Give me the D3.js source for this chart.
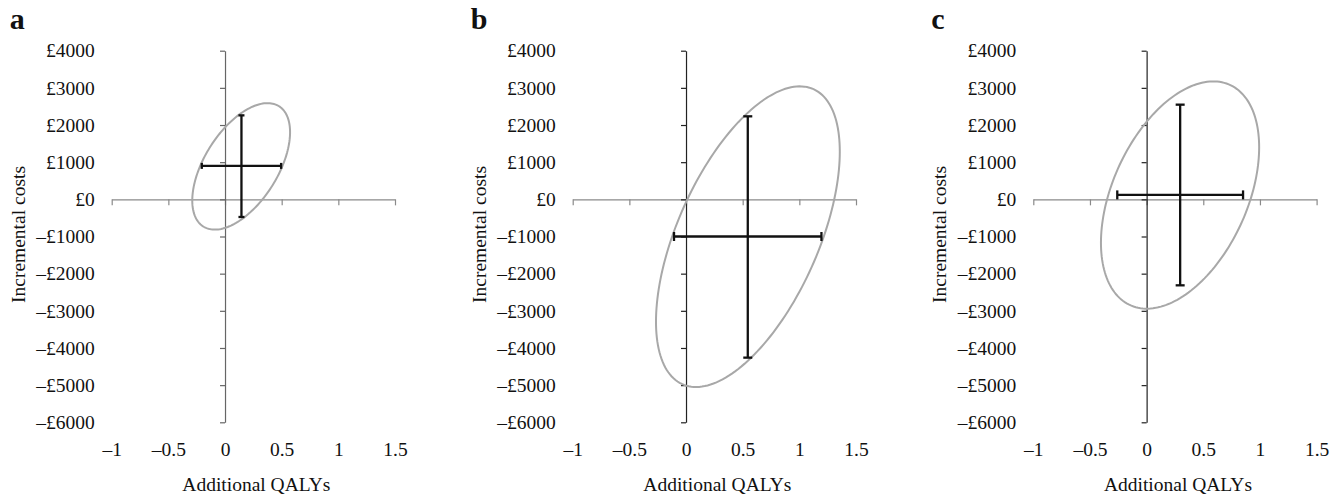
<!DOCTYPE html>
<html>
<head>
<meta charset="utf-8">
<script src="https://cdn.jsdelivr.net/npm/d3@7"></script>
<style>
  body { margin: 0; background: #fff; }
  text { font-family: "Liberation Serif", "Times New Roman", serif; fill: #111; font-size: 19.5px; }
  text.letter { font-size: 30px; font-weight: bold; }
</style>
</head>
<body>
<div id="chart"></div>
<script>
// panel data
const panels = ["a", "b", "c"];
const xTicks = [-1, -0.5, 0, 0.5, 1, 1.5];
const yTicks = [4000, 3000, 2000, 1000, 0, -1000, -2000, -3000, -4000, -5000, -6000];

// mean point
const meanQaly = [0.145, 0.545, 0.296];
const meanCost = [900, -1000, 120];
// 95% intervals
const qalyLow = [-0.205, -0.106, -0.259];
const qalyHigh = [0.495, 1.195, 0.851];
const costLow = [-475, -4260, -2314];
const costHigh = [2260, 2234, 2548];
// confidence ellipse: centre, half widths, correlation
const ellCx = [0.1425, 0.546, 0.295];
const ellCy = [887, -1005, 116];
const ellRx = [0.4315, 0.811, 0.698];
const ellRy = [1702, 4046, 3058];
const ellR = [0.54, 0.565, 0.42];

const W = 1341, H = 496;
const panelLeft = [111.7, 572.7, 1033.3];
const plotW = 283.3;
const plotTop = 50.7, plotBottom = 422.3;

const svg = d3.select("#chart").append("svg")
    .attr("width", W)
    .attr("height", H);

const fmtCost = d => (d < 0 ? "\u2013" : "") + "\u00a3" + Math.abs(d);
const fmtQaly = d => (d < 0 ? "\u2013" : "") + Math.abs(d);

panels.forEach((name, i) => {
    const x = d3.scaleLinear().domain([-1, 1.5]).range([panelLeft[i], panelLeft[i] + plotW]);
    const y = d3.scaleLinear().domain([4000, -6000]).range([plotTop, plotBottom]);
    const g = svg.append("g");

    // panel letter
    g.append("text")
        .attr("class", "letter")
        .attr("x", panelLeft[i] - 102)
        .attr("y", 29)
        .text(name);

    // x axis line through cost = 0
    const xa = g.append("g")
        .attr("transform", `translate(0, ${y(0)})`)
        .call(d3.axisBottom(x).tickValues(xTicks).tickFormat("").tickSize(6).tickSizeOuter(0));
    xa.selectAll("path, line").attr("stroke", "#8a8a8a").attr("stroke-width", 1.2);

    // y axis line through qaly = 0
    const ya = g.append("g")
        .attr("transform", `translate(${x(0)}, 0)`)
        .call(d3.axisLeft(y).tickValues(yTicks).tickFormat("").tickSize(5).tickSizeOuter(0));
    ya.selectAll("path, line").attr("stroke", i == 0 ? "#666" : "#222").attr("stroke-width", 1.2);

    // x labels at the bottom
    const xl = g.append("g")
        .attr("transform", `translate(0, ${plotBottom + 17})`)
        .call(d3.axisBottom(x).tickValues(xTicks).tickFormat(fmtQaly).tickSize(0));
    xl.select(".domain").remove();

    // y labels on the left
    const yl = g.append("g")
        .attr("transform", `translate(${panelLeft[i] - 14}, 0)`)
        .call(d3.axisLeft(y).tickValues(yTicks).tickFormat(fmtCost).tickSize(0));
    yl.select(".domain").remove();

    // axis titles
    g.append("text")
        .attr("x", panelLeft[i] + plotW / 2 + 3)
        .attr("y", 491)
        .attr("text-anchor", "middle")
        .text("Additional QALYs");

    g.append("text")
        .attr("transform", `translate(${panelLeft[i] - 87}, ${(plotTop + plotBottom) / 2 - 2}) rotate(-90)`)
        .attr("text-anchor", "middle")
        .text("Incremental costs");

    // ellipse
    const phi = Math.acos(ellR[i]);
    const pts = d3.range(0, 2 * Math.PI, Math.PI / 90).map(t => [
        ellCx[i] + ellRx[i] * Math.cos(t),
        ellCy[i] + ellRy[i] * Math.cos(t - phi)
    ]);
    g.append("path")
        .datum(pts)
        .attr("fill", "none")
        .attr("stroke", "#a8a8a8")
        .attr("stroke-width", 2)
        .attr("d", d3.line().x(d => x(d[0])).y(d => y(d[1])).curve(d3.curveLinearClosed));

    // error bars
    const cap = i == 0 ? 3 : 4.5;
    const bars = g.append("g").attr("stroke", "#111").attr("stroke-width", 2.3);
    bars.append("line")
        .attr("x1", x(qalyLow[i])).attr("x2", x(qalyHigh[i]))
        .attr("y1", y(meanCost[i])).attr("y2", y(meanCost[i]));
    bars.append("line")
        .attr("x1", x(meanQaly[i])).attr("x2", x(meanQaly[i]))
        .attr("y1", y(costLow[i])).attr("y2", y(costHigh[i]));
    [qalyLow[i], qalyHigh[i]].forEach(v => {
        bars.append("line")
            .attr("x1", x(v)).attr("x2", x(v))
            .attr("y1", y(meanCost[i]) - cap).attr("y2", y(meanCost[i]) + cap);
    });
    [costLow[i], costHigh[i]].forEach(v => {
        bars.append("line")
            .attr("x1", x(meanQaly[i]) - cap).attr("x2", x(meanQaly[i]) + cap)
            .attr("y1", y(v)).attr("y2", y(v));
    });
});
</script>
</body>
</html>
